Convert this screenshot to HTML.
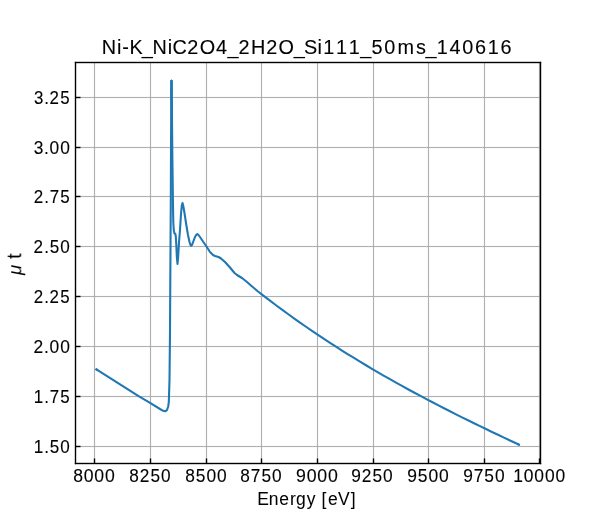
<!DOCTYPE html>
<html lang="en">
<head>
<meta charset="utf-8">
<title>Ni-K_NiC2O4_2H2O_Si111_50ms_140616</title>
<style>
html,body{margin:0;padding:0;background:#fff;}
body{width:600px;height:520px;overflow:hidden;font-family:"Liberation Sans",sans-serif;}
svg{display:block;}
</style>
</head>
<body>
<svg width="600" height="520" viewBox="0 0 600 520">
<rect x="0" y="0" width="600" height="520" fill="#fff"/>
<g fill="#b0b0b0" shape-rendering="crispEdges">
<rect x="94" y="63" width="1" height="400"/>
<rect x="150" y="63" width="1" height="400"/>
<rect x="206" y="63" width="1" height="400"/>
<rect x="261" y="63" width="1" height="400"/>
<rect x="317" y="63" width="1" height="400"/>
<rect x="373" y="63" width="1" height="400"/>
<rect x="428" y="63" width="1" height="400"/>
<rect x="484" y="63" width="1" height="400"/>
<rect x="539" y="63" width="1" height="400"/>
<rect x="76" y="97" width="464" height="1"/>
<rect x="76" y="147" width="464" height="1"/>
<rect x="76" y="196" width="464" height="1"/>
<rect x="76" y="246" width="464" height="1"/>
<rect x="76" y="296" width="464" height="1"/>
<rect x="76" y="346" width="464" height="1"/>
<rect x="76" y="396" width="464" height="1"/>
<rect x="76" y="446" width="464" height="1"/>
</g>
<g fill="#000" fill-opacity="0.02" shape-rendering="crispEdges">
<rect x="93" y="63" width="1" height="400"/>
<rect x="95" y="63" width="1" height="400"/>
<rect x="149" y="63" width="1" height="400"/>
<rect x="151" y="63" width="1" height="400"/>
<rect x="205" y="63" width="1" height="400"/>
<rect x="207" y="63" width="1" height="400"/>
<rect x="260" y="63" width="1" height="400"/>
<rect x="262" y="63" width="1" height="400"/>
<rect x="316" y="63" width="1" height="400"/>
<rect x="318" y="63" width="1" height="400"/>
<rect x="372" y="63" width="1" height="400"/>
<rect x="374" y="63" width="1" height="400"/>
<rect x="427" y="63" width="1" height="400"/>
<rect x="429" y="63" width="1" height="400"/>
<rect x="483" y="63" width="1" height="400"/>
<rect x="485" y="63" width="1" height="400"/>
<rect x="538" y="63" width="1" height="400"/>
<rect x="540" y="63" width="1" height="400"/>
<rect x="76" y="96" width="464" height="1"/>
<rect x="76" y="98" width="464" height="1"/>
<rect x="76" y="146" width="464" height="1"/>
<rect x="76" y="148" width="464" height="1"/>
<rect x="76" y="195" width="464" height="1"/>
<rect x="76" y="197" width="464" height="1"/>
<rect x="76" y="245" width="464" height="1"/>
<rect x="76" y="247" width="464" height="1"/>
<rect x="76" y="295" width="464" height="1"/>
<rect x="76" y="297" width="464" height="1"/>
<rect x="76" y="345" width="464" height="1"/>
<rect x="76" y="347" width="464" height="1"/>
<rect x="76" y="395" width="464" height="1"/>
<rect x="76" y="397" width="464" height="1"/>
<rect x="76" y="445" width="464" height="1"/>
<rect x="76" y="447" width="464" height="1"/>
</g>
<g fill="none" stroke="#1f77b4" stroke-width="2.083" stroke-linejoin="round" stroke-linecap="round">
<path d="M96.40,369.45 L139.00,396.40 L150.50,403.20 L160.00,409.00 L163.20,410.80 L165.50,411.30 L167.00,410.00 L168.20,406.50 L168.80,402.00 L169.00,396.00 L169.50,380.00 L170.00,332.00 L170.30,280.00 L170.80,200.00 L171.00,150.00 L171.30,100.00 L171.50,80.80"/>
<path d="M171.50,80.80 L171.70,100.00 L172.00,120.00 L172.40,160.00 L172.90,200.00 L173.30,222.00 L173.80,230.50 L174.50,233.50 L175.30,233.80 L175.80,236.50 L176.30,245.00 L176.90,258.00 L177.50,264.00 L178.10,258.00 L179.00,242.00 L180.00,230.00 L181.00,214.00 L181.80,205.50 L182.50,203.10 L183.20,205.50 L184.50,213.00 L186.00,223.00 L188.00,235.00 L189.50,242.00 L190.50,245.00 L191.20,245.80 L192.20,244.50 L193.50,241.00 L195.00,237.00 L196.30,234.80 L197.30,234.00 L198.50,235.00 L200.00,237.00 L203.00,241.50 L206.50,246.50 L210.00,252.00 L213.00,255.00 L215.00,256.00 L218.50,257.00 L221.00,258.50 L225.00,262.00 L230.00,267.50 L234.50,273.00 L237.00,275.00 L242.00,278.00 L247.00,282.00 L253.00,287.20 L258.00,291.46 L264.00,296.12 L270.00,300.70 L276.00,305.21 L282.00,309.65 L288.00,314.02 L294.00,318.33 L300.00,322.56 L306.00,326.74 L312.00,330.85 L318.00,334.90 L324.00,338.89 L330.00,342.82 L336.00,346.69 L342.00,350.51 L348.00,354.27 L354.00,357.98 L360.00,361.64 L366.00,365.25 L372.00,368.81 L378.00,372.32 L384.00,375.78 L390.00,379.21 L396.00,382.58 L402.00,385.92 L408.00,389.22 L414.00,392.47 L420.00,395.69 L426.00,398.88 L432.00,402.03 L438.00,405.15 L444.00,408.23 L450.00,411.29 L456.00,414.31 L462.00,417.31 L468.00,420.28 L474.00,423.23 L480.00,426.16 L486.00,429.06 L492.00,431.94 L498.00,434.81 L504.00,437.65 L510.00,440.48 L516.00,443.30 L518.90,444.66"/>
<path d="M171.30,100.00 L171.50,80.80 L171.70,100.00 L172.00,120.00" stroke-linecap="butt"/>
<path d="M96.40,369.45 L96.91,369.77" stroke-linecap="square"/>
<path d="M518.90,444.66 L518.36,444.41" stroke-linecap="square"/>
</g>
<g fill="#000" shape-rendering="crispEdges">
<rect x="94" y="459" width="1" height="4"/>
<rect x="94" y="458" width="1" height="1" fill-opacity="0.5"/>
<rect x="93" y="459" width="1" height="4" fill-opacity="0.2"/>
<rect x="95" y="459" width="1" height="4" fill-opacity="0.2"/>
<rect x="93" y="458" width="1" height="1" fill-opacity="0.1"/>
<rect x="95" y="458" width="1" height="1" fill-opacity="0.1"/>
<rect x="150" y="459" width="1" height="4"/>
<rect x="150" y="458" width="1" height="1" fill-opacity="0.5"/>
<rect x="149" y="459" width="1" height="4" fill-opacity="0.2"/>
<rect x="151" y="459" width="1" height="4" fill-opacity="0.2"/>
<rect x="149" y="458" width="1" height="1" fill-opacity="0.1"/>
<rect x="151" y="458" width="1" height="1" fill-opacity="0.1"/>
<rect x="206" y="459" width="1" height="4"/>
<rect x="206" y="458" width="1" height="1" fill-opacity="0.5"/>
<rect x="205" y="459" width="1" height="4" fill-opacity="0.2"/>
<rect x="207" y="459" width="1" height="4" fill-opacity="0.2"/>
<rect x="205" y="458" width="1" height="1" fill-opacity="0.1"/>
<rect x="207" y="458" width="1" height="1" fill-opacity="0.1"/>
<rect x="261" y="459" width="1" height="4"/>
<rect x="261" y="458" width="1" height="1" fill-opacity="0.5"/>
<rect x="260" y="459" width="1" height="4" fill-opacity="0.2"/>
<rect x="262" y="459" width="1" height="4" fill-opacity="0.2"/>
<rect x="260" y="458" width="1" height="1" fill-opacity="0.1"/>
<rect x="262" y="458" width="1" height="1" fill-opacity="0.1"/>
<rect x="317" y="459" width="1" height="4"/>
<rect x="317" y="458" width="1" height="1" fill-opacity="0.5"/>
<rect x="316" y="459" width="1" height="4" fill-opacity="0.2"/>
<rect x="318" y="459" width="1" height="4" fill-opacity="0.2"/>
<rect x="316" y="458" width="1" height="1" fill-opacity="0.1"/>
<rect x="318" y="458" width="1" height="1" fill-opacity="0.1"/>
<rect x="373" y="459" width="1" height="4"/>
<rect x="373" y="458" width="1" height="1" fill-opacity="0.5"/>
<rect x="372" y="459" width="1" height="4" fill-opacity="0.2"/>
<rect x="374" y="459" width="1" height="4" fill-opacity="0.2"/>
<rect x="372" y="458" width="1" height="1" fill-opacity="0.1"/>
<rect x="374" y="458" width="1" height="1" fill-opacity="0.1"/>
<rect x="428" y="459" width="1" height="4"/>
<rect x="428" y="458" width="1" height="1" fill-opacity="0.5"/>
<rect x="427" y="459" width="1" height="4" fill-opacity="0.2"/>
<rect x="429" y="459" width="1" height="4" fill-opacity="0.2"/>
<rect x="427" y="458" width="1" height="1" fill-opacity="0.1"/>
<rect x="429" y="458" width="1" height="1" fill-opacity="0.1"/>
<rect x="484" y="459" width="1" height="4"/>
<rect x="484" y="458" width="1" height="1" fill-opacity="0.5"/>
<rect x="483" y="459" width="1" height="4" fill-opacity="0.2"/>
<rect x="485" y="459" width="1" height="4" fill-opacity="0.2"/>
<rect x="483" y="458" width="1" height="1" fill-opacity="0.1"/>
<rect x="485" y="458" width="1" height="1" fill-opacity="0.1"/>
<rect x="539" y="459" width="1" height="4"/>
<rect x="539" y="458" width="1" height="1" fill-opacity="0.5"/>
<rect x="538" y="459" width="1" height="4" fill-opacity="0.2"/>
<rect x="540" y="459" width="1" height="4" fill-opacity="0.2"/>
<rect x="538" y="458" width="1" height="1" fill-opacity="0.1"/>
<rect x="540" y="458" width="1" height="1" fill-opacity="0.1"/>
<rect x="76" y="97" width="4" height="1"/>
<rect x="80" y="97" width="1" height="1" fill-opacity="0.5"/>
<rect x="76" y="96" width="4" height="1" fill-opacity="0.2"/>
<rect x="76" y="98" width="4" height="1" fill-opacity="0.2"/>
<rect x="80" y="96" width="1" height="1" fill-opacity="0.1"/>
<rect x="80" y="98" width="1" height="1" fill-opacity="0.1"/>
<rect x="76" y="147" width="4" height="1"/>
<rect x="80" y="147" width="1" height="1" fill-opacity="0.5"/>
<rect x="76" y="146" width="4" height="1" fill-opacity="0.2"/>
<rect x="76" y="148" width="4" height="1" fill-opacity="0.2"/>
<rect x="80" y="146" width="1" height="1" fill-opacity="0.1"/>
<rect x="80" y="148" width="1" height="1" fill-opacity="0.1"/>
<rect x="76" y="196" width="4" height="1"/>
<rect x="80" y="196" width="1" height="1" fill-opacity="0.5"/>
<rect x="76" y="195" width="4" height="1" fill-opacity="0.2"/>
<rect x="76" y="197" width="4" height="1" fill-opacity="0.2"/>
<rect x="80" y="195" width="1" height="1" fill-opacity="0.1"/>
<rect x="80" y="197" width="1" height="1" fill-opacity="0.1"/>
<rect x="76" y="246" width="4" height="1"/>
<rect x="80" y="246" width="1" height="1" fill-opacity="0.5"/>
<rect x="76" y="245" width="4" height="1" fill-opacity="0.2"/>
<rect x="76" y="247" width="4" height="1" fill-opacity="0.2"/>
<rect x="80" y="245" width="1" height="1" fill-opacity="0.1"/>
<rect x="80" y="247" width="1" height="1" fill-opacity="0.1"/>
<rect x="76" y="296" width="4" height="1"/>
<rect x="80" y="296" width="1" height="1" fill-opacity="0.5"/>
<rect x="76" y="295" width="4" height="1" fill-opacity="0.2"/>
<rect x="76" y="297" width="4" height="1" fill-opacity="0.2"/>
<rect x="80" y="295" width="1" height="1" fill-opacity="0.1"/>
<rect x="80" y="297" width="1" height="1" fill-opacity="0.1"/>
<rect x="76" y="346" width="4" height="1"/>
<rect x="80" y="346" width="1" height="1" fill-opacity="0.5"/>
<rect x="76" y="345" width="4" height="1" fill-opacity="0.2"/>
<rect x="76" y="347" width="4" height="1" fill-opacity="0.2"/>
<rect x="80" y="345" width="1" height="1" fill-opacity="0.1"/>
<rect x="80" y="347" width="1" height="1" fill-opacity="0.1"/>
<rect x="76" y="396" width="4" height="1"/>
<rect x="80" y="396" width="1" height="1" fill-opacity="0.5"/>
<rect x="76" y="395" width="4" height="1" fill-opacity="0.2"/>
<rect x="76" y="397" width="4" height="1" fill-opacity="0.2"/>
<rect x="80" y="395" width="1" height="1" fill-opacity="0.1"/>
<rect x="80" y="397" width="1" height="1" fill-opacity="0.1"/>
<rect x="76" y="446" width="4" height="1"/>
<rect x="80" y="446" width="1" height="1" fill-opacity="0.5"/>
<rect x="76" y="445" width="4" height="1" fill-opacity="0.2"/>
<rect x="76" y="447" width="4" height="1" fill-opacity="0.2"/>
<rect x="80" y="445" width="1" height="1" fill-opacity="0.1"/>
<rect x="80" y="447" width="1" height="1" fill-opacity="0.1"/>
<rect x="75" y="62" width="1" height="402"/>
<rect x="540" y="62" width="1" height="402"/>
<rect x="76" y="62" width="464" height="1"/>
<rect x="76" y="463" width="464" height="1"/>
<rect x="74" y="62" width="1" height="402" fill-opacity="0.2"/>
<rect x="76" y="62" width="1" height="402" fill-opacity="0.2"/>
<rect x="539" y="62" width="1" height="402" fill-opacity="0.2"/>
<rect x="541" y="62" width="1" height="402" fill-opacity="0.2"/>
<rect x="75" y="61" width="466" height="1" fill-opacity="0.2"/>
<rect x="75" y="63" width="466" height="1" fill-opacity="0.2"/>
<rect x="75" y="462" width="466" height="1" fill-opacity="0.2"/>
<rect x="75" y="464" width="466" height="1" fill-opacity="0.2"/>
<rect x="75" y="61" width="1" height="1" fill-opacity="0.2"/>
<rect x="75" y="464" width="1" height="1" fill-opacity="0.2"/>
<rect x="540" y="61" width="1" height="1" fill-opacity="0.2"/>
<rect x="540" y="464" width="1" height="1" fill-opacity="0.2"/>
<rect x="74" y="62" width="1" height="1" fill-opacity="0.2"/>
<rect x="541" y="62" width="1" height="1" fill-opacity="0.2"/>
<rect x="74" y="463" width="1" height="1" fill-opacity="0.2"/>
<rect x="541" y="463" width="1" height="1" fill-opacity="0.2"/>
<rect x="74" y="61" width="1" height="1" fill-opacity="0.08"/>
<rect x="541" y="61" width="1" height="1" fill-opacity="0.08"/>
<rect x="74" y="464" width="1" height="1" fill-opacity="0.08"/>
<rect x="541" y="464" width="1" height="1" fill-opacity="0.08"/>
</g>
<g font-family="'Liberation Sans', sans-serif" fill="#000" opacity="0.999" stroke="#000" stroke-width="0" stroke-linejoin="round">
<text transform="scale(0.9453,1)" x="107.65 123.77 129.35 137.11 150.03 161.44 177.56 182.51 198.20 211.22 228.59 240.66 252.35 265.57 281.72 294.74 310.72 321.64 335.86 341.91 355.37 368.83 380.99 392.88 406.43 420.62 440.02 450.13 462.00 475.56 489.02 502.49 515.85 529.41" y="54.07" font-size="21.00" stroke-width="0.12">Ni-K_NiC2O4_2H2O_Si111_50ms_140616</text>
<text transform="scale(0.9212,1)" x="279.17 291.75 303.01 314.70 321.30 333.00 343.08 349.00 356.18 366.81 380.90" y="505.22" font-size="19.00" stroke-width="0.05">Energy [eV]</text>
<text transform="scale(0.9272,1)" x="78.95 90.36 101.77 113.18" y="481.66" font-size="19.00" stroke-width="0.12">8000</text>
<text transform="scale(0.9059,1)" x="142.74 154.17 166.02 177.76" y="481.66" font-size="19.00" stroke-width="0.12">8250</text>
<text transform="scale(0.9142,1)" x="202.66 214.16 225.80 237.37" y="481.66" font-size="19.00" stroke-width="0.12">8500</text>
<text transform="scale(0.9092,1)" x="264.30 275.90 287.50 299.21" y="481.66" font-size="19.00" stroke-width="0.12">8750</text>
<text transform="scale(0.9321,1)" x="317.70 329.10 340.45 351.80" y="481.66" font-size="19.00" stroke-width="0.12">9000</text>
<text transform="scale(0.9109,1)" x="385.60 397.03 408.81 420.50" y="481.66" font-size="19.00" stroke-width="0.12">9250</text>
<text transform="scale(0.9191,1)" x="443.04 454.54 466.12 477.63" y="481.66" font-size="19.00" stroke-width="0.12">9500</text>
<text transform="scale(0.9141,1)" x="506.75 518.34 529.88 541.52" y="481.66" font-size="19.00" stroke-width="0.12">9750</text>
<text transform="scale(0.9170,1)" x="559.59 571.22 582.75 594.29 605.82" y="481.66" font-size="19.00" stroke-width="0.12">10000</text>
<text transform="scale(0.8975,1)" x="37.63 49.19 55.33 67.18" y="452.85" font-size="19.00" stroke-width="0.12">1.50</text>
<text transform="scale(0.8907,1)" x="37.96 49.59 55.82 67.66" y="402.97" font-size="19.00" stroke-width="0.12">1.75</text>
<text transform="scale(0.9161,1)" x="36.61 48.14 54.16 65.71" y="353.09" font-size="19.00" stroke-width="0.12">2.00</text>
<text transform="scale(0.8891,1)" x="37.88 49.68 55.73 67.80" y="303.21" font-size="19.00" stroke-width="0.12">2.25</text>
<text transform="scale(0.8997,1)" x="37.37 49.06 55.18 67.00" y="253.33" font-size="19.00" stroke-width="0.12">2.50</text>
<text transform="scale(0.8931,1)" x="37.69 49.45 55.66 67.46" y="203.45" font-size="19.00" stroke-width="0.12">2.75</text>
<text transform="scale(0.9148,1)" x="36.93 48.21 54.25 65.81" y="153.57" font-size="19.00" stroke-width="0.12">3.00</text>
<text transform="scale(0.8881,1)" x="38.20 49.74 55.79 67.88" y="103.69" font-size="19.00" stroke-width="0.12">3.25</text>
<text transform="translate(21.25,275.00) rotate(-90)" font-size="18.60"><tspan font-style="italic">μ</tspan><tspan dx="0.00" font-size="20.50"> t</tspan></text>
</g>
</svg>
</body>
</html>
